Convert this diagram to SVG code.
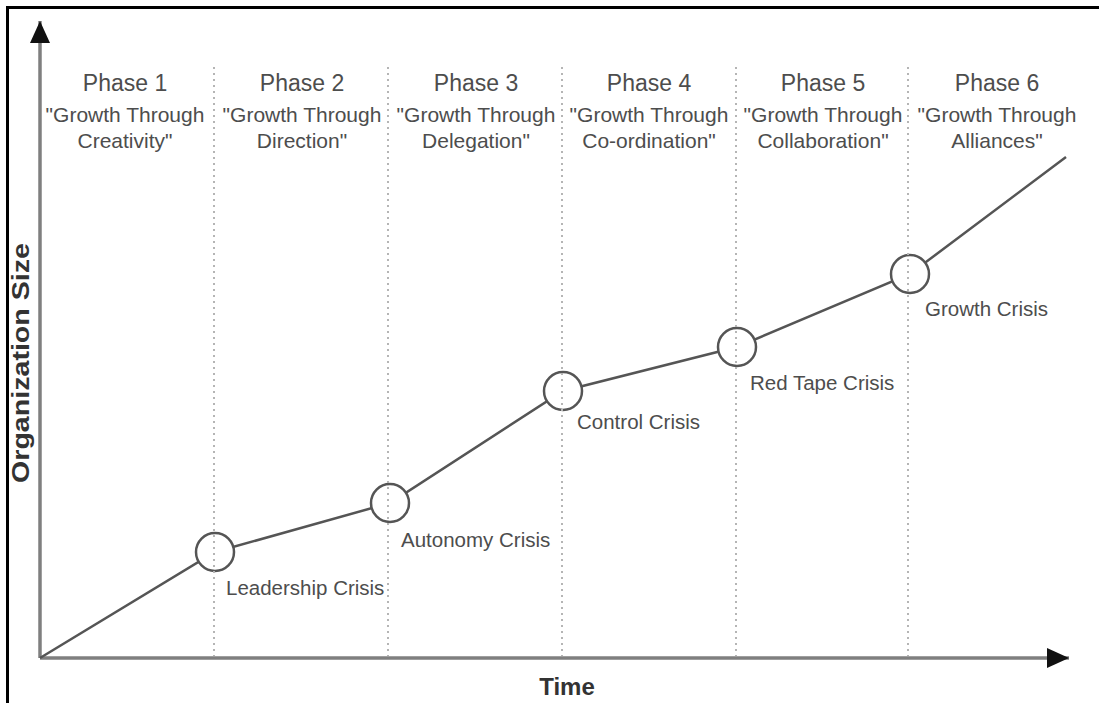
<svg xmlns="http://www.w3.org/2000/svg" width="1099" height="703" viewBox="0 0 1099 703">
<style>
.phase{font-family:"Liberation Sans",Arial,sans-serif;font-size:23px;fill:#4d4d4d;text-anchor:middle}
.sub{font-family:"Liberation Sans",Arial,sans-serif;font-size:21px;fill:#4d4d4d;text-anchor:middle}
.crisis{font-family:"Liberation Sans",Arial,sans-serif;font-size:20.5px;fill:#4d4d4d}
.axislabel{font-family:"Liberation Sans",Arial,sans-serif;font-weight:bold;fill:#333;text-anchor:middle}
.axis{stroke:#7f7f7f;stroke-width:3.5;fill:none}
.dot{stroke:#b5b5b5;stroke-width:2;stroke-dasharray:2 4;fill:none}
.curve{stroke:#555;stroke-width:2.5;fill:none}
.node{stroke:#555;stroke-width:2.5;fill:#fff}
</style>
<defs>
<marker id="arr" viewBox="0 0 22 20" refX="22" refY="10" markerWidth="22" markerHeight="20" markerUnits="userSpaceOnUse" orient="auto">
<path d="M0,0 L22,10 L0,20 Z" fill="#111"/>
</marker>
</defs>
<rect width="1099" height="703" fill="#fff"/>
<path d="M7.5,703 V7.5 H1099" stroke="#000" stroke-width="3" fill="none"/>
<g id="axes">
<line class="axis" x1="40" y1="658" x2="40" y2="21" marker-end="url(#arr)"/>
<line class="axis" x1="40" y1="658" x2="1069" y2="658" marker-end="url(#arr)"/>
<text class="axislabel" font-size="23" transform="translate(29,363) rotate(-90)" textLength="240" lengthAdjust="spacingAndGlyphs">Organization Size</text>
<text class="axislabel" font-size="24" x="567" y="695">Time</text>
</g>
<g id="connectors">
<polyline class="curve" points="40,658 215,552 390,503 563,391 737,347 910,274 1066,157"/>
</g>
<g id="crisis1"><circle class="node" cx="215" cy="552" r="19"/><text class="crisis" x="226" y="595">Leadership Crisis</text></g>
<g id="crisis2"><circle class="node" cx="390" cy="503" r="19"/><text class="crisis" x="401" y="547">Autonomy Crisis</text></g>
<g id="crisis3"><circle class="node" cx="563" cy="391" r="19"/><text class="crisis" x="577" y="429">Control Crisis</text></g>
<g id="crisis4"><circle class="node" cx="737" cy="347" r="19"/><text class="crisis" x="750" y="390">Red Tape Crisis</text></g>
<g id="crisis5"><circle class="node" cx="910" cy="274" r="19"/><text class="crisis" x="925" y="316">Growth Crisis</text></g>
<g id="dividers">
<line class="dot" x1="214" y1="67" x2="214" y2="656"/>
<line class="dot" x1="388" y1="67" x2="388" y2="656"/>
<line class="dot" x1="562" y1="67" x2="562" y2="656"/>
<line class="dot" x1="736" y1="67" x2="736" y2="656"/>
<line class="dot" x1="908" y1="67" x2="908" y2="656"/>
</g>
<g id="phase1"><text class="phase" x="125" y="91">Phase 1</text><text class="sub" x="125" y="122">"Growth Through</text><text class="sub" x="125" y="148">Creativity"</text></g>
<g id="phase2"><text class="phase" x="302" y="91">Phase 2</text><text class="sub" x="302" y="122">"Growth Through</text><text class="sub" x="302" y="148">Direction"</text></g>
<g id="phase3"><text class="phase" x="476" y="91">Phase 3</text><text class="sub" x="476" y="122">"Growth Through</text><text class="sub" x="476" y="148">Delegation"</text></g>
<g id="phase4"><text class="phase" x="649" y="91">Phase 4</text><text class="sub" x="649" y="122">"Growth Through</text><text class="sub" x="649" y="148">Co-ordination"</text></g>
<g id="phase5"><text class="phase" x="823" y="91">Phase 5</text><text class="sub" x="823" y="122">"Growth Through</text><text class="sub" x="823" y="148">Collaboration"</text></g>
<g id="phase6"><text class="phase" x="997" y="91">Phase 6</text><text class="sub" x="997" y="122">"Growth Through</text><text class="sub" x="997" y="148">Alliances"</text></g>
</svg>
